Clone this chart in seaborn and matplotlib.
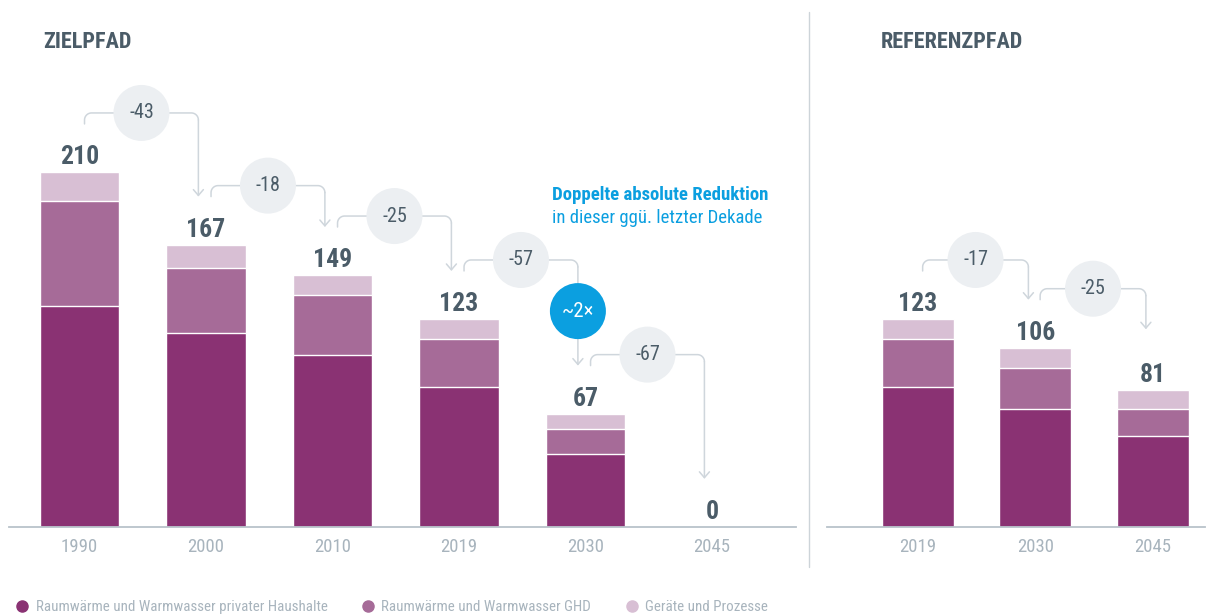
import numpy as np
import matplotlib
matplotlib.use("Agg")
import matplotlib.pyplot as plt
from matplotlib.lines import Line2D
import seaborn as sns

# Zielpfad: emissions by sector (Mt CO2-eq)
ziel_years = ["1990", "2000", "2010", "2019", "2030", "2045"]
ziel_haushalte = [131, 115, 102, 83, 43, 0]
ziel_ghd = [62, 38, 35, 28, 15, 0]
ziel_geraete = [17, 14, 12, 12, 9, 0]
ziel_changes = [-43, -18, -25, -57, -67]

# Referenzpfad
ref_years = ["2019", "2030", "2045"]
ref_haushalte = [83, 70, 54]
ref_ghd = [28, 24, 16]
ref_geraete = [12, 12, 11]
ref_changes = [-17, -25]

legend_labels = [
    "Raumwärme und Warmwasser privater Haushalte",
    "Raumwärme und Warmwasser GHD",
    "Geräte und Prozesse",
]

C_HH = "#8a3273"
C_GHD = "#a66b98"
C_GER = "#d8bfd4"
TXT = "#4b5c68"
GREY = "#a8b4bd"
LINE = "#cfd6dc"
CIRCLE = "#eceff2"
BLUE = "#0b9fe0"

sns.set_style("white")
plt.rcParams["font.family"] = ["Liberation Sans Narrow", "Roboto Condensed",
                               "Liberation Sans", "DejaVu Sans"]

W, H = 1208, 616
fig = plt.figure(figsize=(W / 100, H / 100), dpi=100)
ax_l = fig.add_axes([9 / W, 89 / H, 787 / W, 447.85 / H])
ax_r = fig.add_axes([827 / W, 89 / H, 378 / W, 447.85 / H])


def draw_stack(ax, years, hh, ghd, ger, width, xlim):
    hh, ghd, ger = map(np.asarray, (hh, ghd, ger))
    total = hh + ghd + ger
    for vals, col in [(total, C_GER), (hh + ghd, C_GHD), (hh, C_HH)]:
        sns.barplot(x=years, y=vals, color=col, width=width, saturation=1,
                    edgecolor="white", linewidth=1, errorbar=None, ax=ax)
    ax.set_xlim(*xlim)
    ax.set_ylim(0, 265)
    ax.set_yticks([])
    ax.set_xlabel("")
    ax.set_ylabel("")
    for side in ("left", "right", "top"):
        ax.spines[side].set_visible(False)
    ax.spines["bottom"].set_color("#b9c3ca")
    ax.spines["bottom"].set_linewidth(1.3)
    ax.tick_params(axis="x", length=0, pad=8, labelsize=13.5, labelcolor=GREY)
    for i, t in enumerate(total):
        ax.text(i, t + 9, f"{t:d}", ha="center", va="center",
                fontsize=18.5, fontweight="bold", color=TXT)
    return total


def connector(ax, i, y_from, y_to, label, tip_gap=28.5, r_px=7):
    xs, xe = i + 0.04, i + 1 - 0.06
    ys, yh, ye = y_from + 28.5, y_from + 35, y_to + tip_gap
    p0 = ax.transData.transform((0, 0))
    p1 = ax.transData.transform((1, 1))
    rx, ry = r_px / (p1[0] - p0[0]), r_px / (p1[1] - p0[1])
    a1 = np.linspace(np.pi, np.pi / 2, 12)
    a2 = np.linspace(np.pi / 2, 0, 12)
    px = np.concatenate([[xs], xs + rx + rx * np.cos(a1), xe - rx + rx * np.cos(a2)])
    py = np.concatenate([[ys], yh - ry + ry * np.sin(a1), yh - ry + ry * np.sin(a2)])
    ax.plot(px, py, color=LINE, lw=1.1, clip_on=False, zorder=3)
    ax.annotate("", xy=(xe, ye), xytext=(xe, yh - ry),
                arrowprops=dict(arrowstyle="->,head_length=0.35,head_width=0.3",
                                color=LINE, lw=1.1, shrinkA=0, shrinkB=0,
                                mutation_scale=12),
                zorder=3, annotation_clip=False)
    cx = (xs + xe) / 2
    ax.scatter([cx], [yh], s=1626, color=CIRCLE, edgecolors="none",
               zorder=4, clip_on=False)
    ax.text(cx, yh, f"{label:d}", ha="center", va="center", fontsize=14.5,
            color=TXT, zorder=5)
    return xe, yh, ye


tot_l = draw_stack(ax_l, ziel_years, ziel_haushalte, ziel_ghd, ziel_geraete,
                   0.625, (-0.557, 5.664))
tot_r = draw_stack(ax_r, ref_years, ref_haushalte, ref_ghd, ref_geraete,
                   0.613, (-0.774, 2.443))

for i, ch in enumerate(ziel_changes):
    xe, yh, ye = connector(ax_l, i, tot_l[i], tot_l[i + 1], ch)
    if i == 3:
        # decade comparison marker on the 2019 -> 2030 step
        ax_l.scatter([xe], [(yh + ye) / 2 + 1], s=1626, color=BLUE,
                     edgecolors="none", zorder=4, clip_on=False)
        ax_l.text(xe, (yh + ye) / 2 + 1, "~2×", ha="center", va="center",
                  fontsize=15, color="white", zorder=5)

for i, (ch, gap) in enumerate(zip(ref_changes, [28.5, 36])):
    connector(ax_r, i, tot_r[i], tot_r[i + 1], ch, tip_gap=gap)

ax_l.text(3.735, 196.5, "Doppelte absolute Reduktion", ha="left", va="center",
          fontsize=13.5, fontweight="bold", color=BLUE)
ax_l.text(3.735, 183, "in dieser ggü. letzter Dekade", ha="left", va="center",
          fontsize=13.5, color=BLUE)

fig.text(43 / W, 1 - 42 / H, "ZIELPFAD", ha="left", va="center",
         fontsize=16, fontweight="bold", color=TXT)
fig.text(881 / W, 1 - 42 / H, "REFERENZPFAD", ha="left", va="center",
         fontsize=16, fontweight="bold", color=TXT)

fig.add_artist(Line2D([809 / W, 809 / W], [49 / H, 604 / H],
                      transform=fig.transFigure, color="#cdd4d9", lw=1))

handles = [Line2D([], [], marker="o", linestyle="", markersize=8, color=c,
                  label=l) for c, l in zip([C_HH, C_GHD, C_GER], legend_labels)]
fig.legend(handles=handles, loc="center left", bbox_to_anchor=(16 / W, 1 - 607 / H),
           ncol=3, frameon=False, fontsize=10.8, labelcolor=GREY,
           handlelength=0.8, handletextpad=0.5, columnspacing=2.3,
           borderpad=0, borderaxespad=0)

fig.savefig("out.png", dpi=100)
